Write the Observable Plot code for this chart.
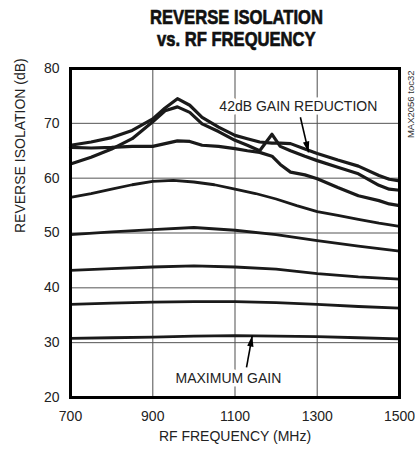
<!DOCTYPE html>
<html>
<head>
<meta charset="utf-8">
<script src="https://cdn.jsdelivr.net/npm/d3@7"></script>
<script src="https://cdn.jsdelivr.net/npm/@observablehq/plot@0.6"></script>
<style>
  body { margin: 0; background: #fff; }
  #wrap { width: 415px; height: 457px; position: relative; background: #fff; }
  #title { height: 52px; width: 415px; box-sizing: border-box; padding-left: 58px; padding-top: 6px;
    text-align: center; font-family: "Liberation Sans", Arial, sans-serif;
    font-weight: bold; font-size: 21px; line-height: 22px; color: #111; }
  #title span { display: inline-block; transform: scaleX(0.79); transform-origin: center; -webkit-text-stroke: 0.7px #111; white-space: nowrap; }
  svg { display: block; }
</style>
</head>
<body>
<div id="wrap">
  <div id="title"><span>REVERSE ISOLATION</span><br><span>vs. RF FREQUENCY</span></div>
  <div id="chart"></div>
</div>
<script>
// ---- data ----
const xTicks = [700, 900, 1100, 1300, 1500];
const yTicks = [20, 30, 40, 50, 60, 70, 80];
const xGrid = [900, 1100, 1300];
const yGrid = [30, 40, 50, 60, 70];

const freqTop = [700, 750, 800, 850, 900, 930, 960, 990, 1020, 1060, 1100, 1130, 1160, 1190, 1210, 1235, 1270, 1300, 1350, 1400, 1450, 1475, 1500];
const curveA = [66.0, 66.6, 67.4, 68.7, 70.8, 72.8, 74.5, 73.3, 71.1, 69.3, 67.8, 67.2, 66.6, 66.4, 66.4, 66.3, 65.3, 64.5, 63.3, 62.2, 60.5, 59.8, 59.5];
const curveB = [62.6, 63.8, 65.3, 67.2, 70.3, 72.3, 73.0, 72.0, 69.9, 68.5, 66.9, 66.0, 65.0, 68.0, 65.8, 65.0, 64.0, 63.2, 62.0, 60.8, 58.7, 58.0, 57.8];
const curveC = [65.6, 65.5, 65.6, 65.8, 65.8, 66.3, 66.8, 66.7, 66.0, 65.8, 65.4, 65.0, 64.7, 64.0, 62.5, 61.1, 60.6, 59.9, 58.3, 56.8, 55.9, 55.3, 55.0];

const freqMid = [700, 750, 800, 850, 900, 950, 1000, 1050, 1100, 1150, 1200, 1250, 1300, 1350, 1400, 1450, 1500];
const curveD = [56.5, 57.2, 58.0, 58.8, 59.4, 59.6, 59.3, 58.8, 58.0, 57.2, 56.2, 55.0, 53.9, 53.2, 52.5, 51.8, 51.2];

const freqLow = [700, 800, 900, 1000, 1100, 1200, 1300, 1400, 1500];
const curveE = [49.7, 50.2, 50.6, 51.0, 50.5, 49.7, 48.6, 47.6, 46.7];
const curveF = [43.2, 43.5, 43.8, 44.0, 43.8, 43.4, 42.6, 42.0, 41.6];
const curveG = [37.0, 37.2, 37.4, 37.5, 37.5, 37.3, 37.0, 36.6, 36.3];
const curveH = [30.8, 30.9, 31.0, 31.2, 31.3, 31.2, 31.1, 30.9, 30.7];

const noteText = ["42dB GAIN REDUCTION", "MAXIMUM GAIN"];
const noteX = [1254, 1084];
const noteY = [73.0, 23.5];
const arrowX1 = [1259, 1128];
const arrowY1 = [71.1, 25.5];
const arrowX2 = [1279, 1142];
const arrowY2 = [64.7, 31.3];

// ---- layout ----
const W = 415, H = 405, MT = 16, MB = 60, ML = 70, MR = 16;
const xDomain = [700, 1500], yDomain = [20, 80];
const kx = (W - ML - MR) / (xDomain[1] - xDomain[0]);
const ky = (H - MT - MB) / (yDomain[1] - yDomain[0]);

// ---- build tables ----
const topSeries = [["A", freqTop, curveA], ["B", freqTop, curveB], ["C", freqTop, curveC]];
const lowSeries = [["D", freqMid, curveD], ["E", freqLow, curveE], ["F", freqLow, curveF],
                   ["G", freqLow, curveG], ["H", freqLow, curveH]];
const toRows = list => list.flatMap(([s, fx, vy]) => fx.map((f, i) => ({s, f, v: vy[i]})));
const topTable = toRows(topSeries);
const lowTable = toRows(lowSeries);
const notes = noteText.map((t, i) => ({t, x: noteX[i], y: noteY[i]}));
const arrows = arrowX1.map((x1, i) => {
  const sx = (arrowX2[i] - x1) * kx, sy = -(arrowY2[i] - arrowY1[i]) * ky;
  return {x1, y1: arrowY1[i], x2: arrowX2[i], y2: arrowY2[i], rot: Math.atan2(sx, -sy) * 180 / Math.PI};
});

// narrow filled arrowhead whose tip sits at the dot's position
const arrowHead = {
  draw(context) {
    context.moveTo(0, 0);
    context.lineTo(-3.2, 11);
    context.lineTo(3.2, 11);
    context.closePath();
  }
};

const FONT = '"Liberation Sans", Arial, sans-serif';

const chart = Plot.plot({
  width: W,
  height: H,
  marginTop: MT,
  marginBottom: MB,
  marginLeft: ML,
  marginRight: MR,
  style: {fontFamily: FONT, fontSize: "14px", color: "#222", background: "#fff"},
  x: {domain: xDomain, label: null},
  y: {domain: yDomain, label: null},
  marks: [
    Plot.gridX(xGrid, {stroke: "#777", strokeOpacity: 1, strokeWidth: 1.3}),
    Plot.gridY(yGrid, {stroke: "#555", strokeOpacity: 1, strokeWidth: 1}),
    Plot.line(lowTable, {x: "f", y: "v", z: "s", stroke: "#1a1a1a", strokeWidth: 2.8, strokeLinejoin: "round"}),
    Plot.line(topTable, {x: "f", y: "v", z: "s", stroke: "#1a1a1a", strokeWidth: 3.2, strokeLinejoin: "round"}),
    Plot.text(notes, {x: "x", y: "y", text: "t", fill: "#222", stroke: "#fff", strokeWidth: 7, fontSize: 14}),
    Plot.link(arrows, {x1: "x1", y1: "y1", x2: "x2", y2: "y2", stroke: "#000", strokeWidth: 1.6}),
    Plot.dot(arrows, {x: "x2", y: "y2", rotate: "rot", symbol: arrowHead, fill: "#000", stroke: "none", r: 5}),
    Plot.frame({stroke: "#000", strokeWidth: 3}),
    Plot.axisX(xTicks, {tickSize: 0, tickPadding: 14, label: null, tickFormat: d => String(d), fontSize: 14}),
    Plot.axisY(yTicks, {tickSize: 0, tickPadding: 11, label: null, tickFormat: d => String(d), fontSize: 14}),
    Plot.text(["REVERSE ISOLATION (dB)"], {frameAnchor: "left", rotate: -90, dx: -50, fontSize: 14, fill: "#222"}),
    Plot.text(["RF FREQUENCY (MHz)"], {frameAnchor: "bottom", dy: 43, fontSize: 14, fill: "#222"}),
    Plot.text(["MAX2056 toc32"], {frameAnchor: "top-right", rotate: -90, dx: 8, dy: 2, textAnchor: "end", fontSize: 9.5, fill: "#333"})
  ]
});
document.getElementById("chart").appendChild(chart);
</script>
</body>
</html>
